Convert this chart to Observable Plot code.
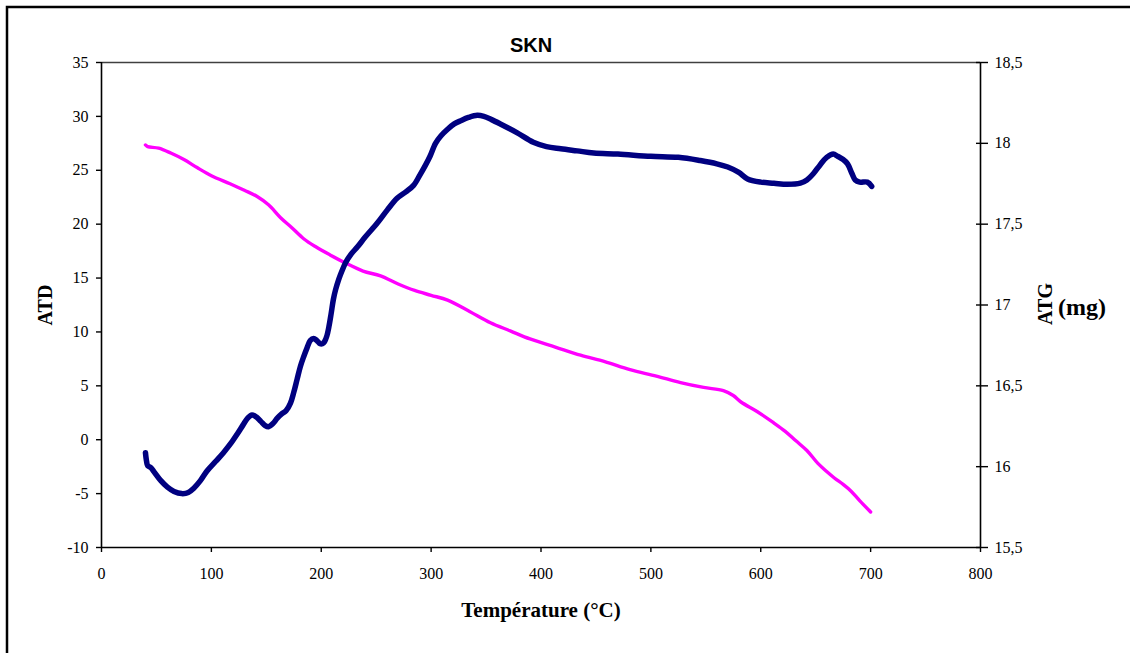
<!DOCTYPE html>
<html><head><meta charset="utf-8">
<script src="https://cdn.jsdelivr.net/npm/d3@7"></script>
<script src="https://cdn.jsdelivr.net/npm/@observablehq/plot@0.6"></script>
<style>body{margin:0;background:#fff} svg{display:block}</style>
</head><body><div id="chart"></div>
<script>
const atdTemp = [40,41,42,45,48,54,60,66,73,79,84,90,96,104,111,118,124,129,133,137,141,145,149,152,156,160,164,168,172,175,178,181,184,187,190,193,196,199,201,203,205,207,209,211,213,216,219,222,227,233,240,251,260,269,277,284,290,295,299,304,309,315,321,327,334,342,348,355,363,378,393,405,418,433,448,470,500,525,545,560,570,580,588,600,612,624,636,642,648,654,660,666,670,675,679,683,686,690,697,701];
const atdValue = [-1.2,-2.0,-2.4,-2.6,-3.0,-3.8,-4.4,-4.8,-5.0,-4.9,-4.5,-3.8,-2.9,-2.0,-1.2,-0.3,0.6,1.4,2.0,2.3,2.1,1.7,1.3,1.2,1.5,2.0,2.4,2.7,3.4,4.4,5.6,6.8,7.7,8.5,9.2,9.4,9.2,8.9,8.9,9.1,9.6,10.5,11.7,13.0,13.9,14.9,15.7,16.4,17.2,17.9,18.8,20.1,21.3,22.4,23.0,23.6,24.6,25.5,26.3,27.5,28.2,28.8,29.3,29.6,29.9,30.1,30.0,29.7,29.3,28.5,27.6,27.2,27.0,26.8,26.6,26.5,26.3,26.2,25.9,25.6,25.3,24.8,24.2,23.9,23.8,23.7,23.8,24.1,24.7,25.5,26.2,26.5,26.3,26.0,25.6,24.7,24.1,23.9,23.9,23.5];
const atgTemp = [40,42,52,63,75,87,100,117,130,142,152,163,173,184,195,208,222,238,254,270,285,300,315,335,354,372,390,413,436,458,481,505,527,548,566,575,582,597,612,622,632,642,652,660,667,675,682,690,700];
const atgMass = [17.99,17.98,17.97,17.94,17.90,17.85,17.80,17.75,17.71,17.67,17.62,17.54,17.48,17.41,17.36,17.31,17.26,17.21,17.18,17.13,17.09,17.06,17.03,16.96,16.89,16.84,16.79,16.74,16.69,16.65,16.60,16.56,16.52,16.49,16.47,16.44,16.40,16.34,16.27,16.22,16.16,16.10,16.02,15.97,15.93,15.89,15.85,15.79,15.72];
const xTicks = [0,100,200,300,400,500,600,700,800];
const atdTicks = [-10,-5,0,5,10,15,20,25,30,35];
const atgTicks = [15.5,16,16.5,17,17.5,18,18.5];

const toLeft = m => -10 + (m - 15.5) * 15;
const fromLeft = v => 15.5 + (v + 10) / 15;
const fmtComma = m => String(Math.round(m * 10) / 10).replace(".", ",");

const atd = atdTemp.map((t, i) => ({t, v: atdValue[i]}));
const atg = atgTemp.map((t, i) => ({t, v: toLeft(atgMass[i])}));

const chart = Plot.plot({
  width: 1130, height: 653,
  marginLeft: 101, marginRight: 150, marginTop: 62, marginBottom: 106,
  style: {fontFamily: "'Liberation Serif', 'Times New Roman', serif", fontSize: "16px", background: "#fff", color: "#000", overflow: "visible"},
  x: {domain: [0, 800]},
  y: {domain: [-10, 35]},
  marks: [
    Plot.ruleY([35], {stroke: "#404040", strokeWidth: 1.4}),
    Plot.line(atg, {x: "t", y: "v", stroke: "#ff00ff", strokeWidth: 3.4, curve: "catmull-rom", strokeLinejoin: "round"}),
    Plot.line(atd, {x: "t", y: "v", stroke: "#000080", strokeWidth: 5.5, curve: "catmull-rom", strokeLinecap: "round", strokeLinejoin: "round"}),
    Plot.ruleX([0], {stroke: "#000", strokeWidth: 1.6}),
    Plot.ruleX([800], {stroke: "#000", strokeWidth: 1.6}),
    Plot.ruleY([-10], {stroke: "#000", strokeWidth: 1.6}),
    Plot.axisX(xTicks, {anchor: "bottom", tickSize: 5, tickPadding: 15, tickFormat: d => String(d), label: null, strokeWidth: 1.4}),
    Plot.axisY(atdTicks, {anchor: "left", tickSize: 5, tickPadding: 8, tickFormat: d => String(d), label: null, strokeWidth: 1.4}),
    Plot.axisY(atgTicks.map(toLeft), {anchor: "right", tickSize: 12, dx: -5, tickFormat: () => "", label: null, strokeWidth: 1.4}),
    Plot.axisY(atgTicks.map(toLeft), {anchor: "right", tickSize: 0, tickPadding: 14, tickFormat: d => fmtComma(fromLeft(d)), label: null})
  ]
});

const svg = d3.select(chart);
svg.append("rect").attr("x", 7).attr("y", 7).attr("width", 2000).attr("height", 2000)
  .attr("fill", "none").attr("stroke", "#000").attr("stroke-width", 2.5);
svg.append("text").attr("x", 531).attr("y", 52).attr("text-anchor", "middle")
  .style("font-family", "'Liberation Sans', Arial, sans-serif").style("font-weight", "bold").style("font-size", "20px").text("SKN");
svg.append("text").attr("transform", "translate(52,305) rotate(-90)").attr("text-anchor", "middle")
  .style("font-weight", "bold").style("font-size", "20px").text("ATD");
svg.append("text").attr("x", 541).attr("y", 617).attr("text-anchor", "middle")
  .style("font-weight", "bold").style("font-size", "21px").text("Température (°C)");
svg.append("text").attr("transform", "translate(1052,304) rotate(-90)").attr("text-anchor", "middle")
  .style("font-weight", "bold").style("font-size", "20px").text("ATG");
svg.append("text").attr("x", 1058).attr("y", 315).attr("text-anchor", "start")
  .style("font-weight", "bold").style("font-size", "24px").text("(mg)");

document.getElementById("chart").appendChild(chart);
</script>
</body></html>
